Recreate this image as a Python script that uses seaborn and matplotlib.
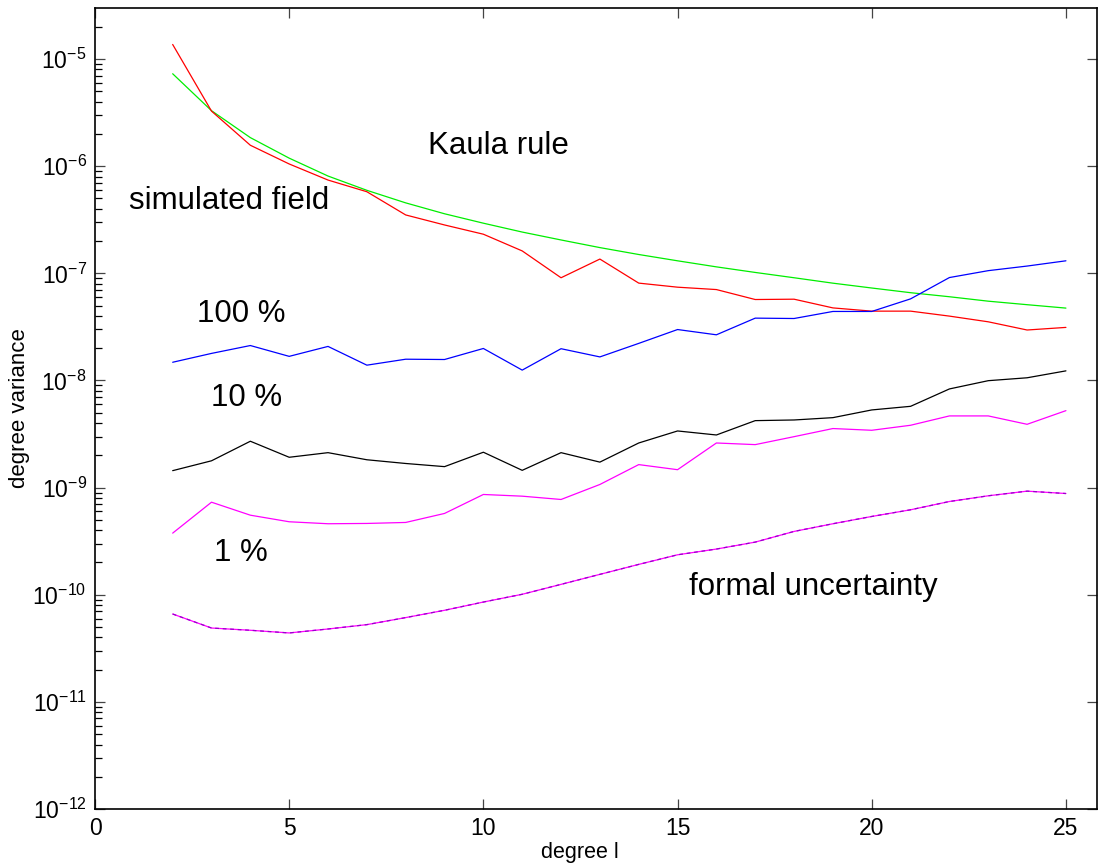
import numpy as np
import pandas as pd
import matplotlib
matplotlib.use("Agg")
import matplotlib.pyplot as plt
import seaborn as sns

degrees = list(range(2, 26))
kaula = [7.3e-6, 3.3e-6, 1.85e-6, 1.19e-6, 8.1e-7, 5.96e-7, 4.55e-7, 3.6e-7, 2.94e-7,
         2.43e-7, 2.05e-7, 1.74e-7, 1.5e-7, 1.31e-7, 1.15e-7, 1.02e-7, 9.1e-8, 8.1e-8,
         7.3e-8, 6.6e-8, 6.05e-8, 5.5e-8, 5.1e-8, 4.74e-8]
simulated = [1.37e-5, 3.27e-6, 1.57e-6, 1.05e-6, 7.43e-7, 5.78e-7, 3.51e-7, 2.83e-7, 2.32e-7,
             1.62e-7, 9.1e-8, 1.36e-7, 8.11e-8, 7.43e-8, 7.06e-8, 5.7e-8, 5.74e-8, 4.76e-8,
             4.44e-8, 4.44e-8, 3.99e-8, 3.53e-8, 2.96e-8, 3.13e-8]
err100 = [1.48e-8, 1.79e-8, 2.12e-8, 1.68e-8, 2.08e-8, 1.39e-8, 1.58e-8, 1.57e-8, 1.99e-8,
          1.25e-8, 1.98e-8, 1.66e-8, 2.22e-8, 2.99e-8, 2.67e-8, 3.82e-8, 3.79e-8, 4.41e-8,
          4.41e-8, 5.78e-8, 9.14e-8, 1.06e-7, 1.17e-7, 1.31e-7]
err10 = [1.44e-9, 1.78e-9, 2.71e-9, 1.92e-9, 2.12e-9, 1.82e-9, 1.68e-9, 1.57e-9, 2.14e-9,
         1.45e-9, 2.12e-9, 1.73e-9, 2.61e-9, 3.38e-9, 3.1e-9, 4.22e-9, 4.28e-9, 4.5e-9,
         5.31e-9, 5.74e-9, 8.34e-9, 9.96e-9, 1.06e-8, 1.23e-8]
err1 = [3.76e-10, 7.31e-10, 5.53e-10, 4.8e-10, 4.6e-10, 4.63e-10, 4.73e-10, 5.74e-10, 8.63e-10,
        8.32e-10, 7.75e-10, 1.07e-9, 1.64e-9, 1.47e-9, 2.61e-9, 2.52e-9, 2.99e-9, 3.56e-9,
        3.43e-9, 3.82e-9, 4.67e-9, 4.67e-9, 3.9e-9, 5.23e-9]
formal = [6.61e-11, 4.89e-11, 4.66e-11, 4.4e-11, 4.79e-11, 5.26e-11, 6.12e-11, 7.16e-11,
          8.55e-11, 1.01e-10, 1.25e-10, 1.55e-10, 1.92e-10, 2.36e-10, 2.67e-10, 3.1e-10,
          3.9e-10, 4.6e-10, 5.38e-10, 6.21e-10, 7.42e-10, 8.39e-10, 9.27e-10, 8.81e-10]

labels = ["Kaula rule", "simulated field", "100 %", "10 %", "1 %", "formal uncertainty"]

sns.set_style("ticks")
plt.rcParams['font.family'] = ['Liberation Sans', 'DejaVu Sans']
plt.rcParams['mathtext.fontset'] = 'custom'
plt.rcParams['mathtext.rm'] = 'Liberation Sans'
plt.rcParams['mathtext.it'] = 'Liberation Sans:italic'
plt.rcParams['text.color'] = 'black'
plt.rcParams['axes.labelcolor'] = 'black'
plt.rcParams['xtick.color'] = 'black'
plt.rcParams['ytick.color'] = 'black'
plt.rcParams['ytick.minor.visible'] = True
plt.rcParams['ytick.minor.size'] = 5
plt.rcParams['ytick.minor.width'] = 0.9
plt.rcParams['ytick.direction'] = 'in'
plt.rcParams['xtick.direction'] = 'in'

fig = plt.figure(figsize=(10.98, 8.68), dpi=100)
ax = fig.add_axes([95 / 1098, 59 / 868, (1097 - 95) / 1098, (809 - 8) / 868])

lw = 0.9
series = [(kaula, "#00ee00"), (simulated, "#ff0000"), (err100, "#0000ff"),
          (err10, "#000000"), (err1, "#ff00ff"), (formal, "#ff00ff")]
for vals, col in series:
    df = pd.DataFrame({"l": degrees, "v": vals})
    sns.lineplot(data=df, x="l", y="v", ax=ax, color=col, linewidth=lw)
# dashed overlay on formal uncertainty
df = pd.DataFrame({"l": degrees, "v": formal})
sns.lineplot(data=df, x="l", y="v", ax=ax, color="#9900cc", linewidth=lw, linestyle=(0, (3, 3)))

ax.set_yscale("log")
ax.set_xlim(0, 25.8)
ax.set_ylim(1e-12, 3e-5)
ax.set_xticks([0, 5, 10, 15, 20, 25])
ax.set_yticks([10.0 ** k for k in range(-12, -4)])
minor = [m * 10.0 ** k for k in range(-12, -4) for m in range(2, 10) if m * 10.0 ** k < 3e-5]
ax.set_yticks(minor, minor=True)
ax.yaxis.set_minor_formatter(matplotlib.ticker.NullFormatter())

ax.tick_params(which="major", direction="in", length=7, width=0.9, top=True, right=True,
               labelsize=16.5, pad=6, color="#444444")
ax.tick_params(axis="y", which="minor", direction="in", length=5, width=0.9, left=True,
               right=False, color="black")
for s in ax.spines.values():
    s.set_linewidth(1.2)
    s.set_color("black")

ax.set_xlabel("degree l", fontsize=15.5)
ax.xaxis.set_label_coords(0.484, -0.041)
ax.set_ylabel("degree variance", fontsize=16, labelpad=2)

fs = 22.5
ax.text(10.38, 1.54e-6, labels[0], fontsize=fs, ha="center", va="center")
ax.text(3.45, 4.74e-7, labels[1], fontsize=fs, ha="center", va="center")
ax.text(3.76, 4.2e-8, labels[2], fontsize=fs, ha="center", va="center")
ax.text(3.89, 6.9e-9, labels[3], fontsize=fs, ha="center", va="center")
ax.text(3.76, 2.43e-10, labels[4], fontsize=fs, ha="center", va="center")
ax.text(18.49, 1.17e-10, labels[5], fontsize=fs, ha="center", va="center")

fig.savefig("out.png", dpi=100)
